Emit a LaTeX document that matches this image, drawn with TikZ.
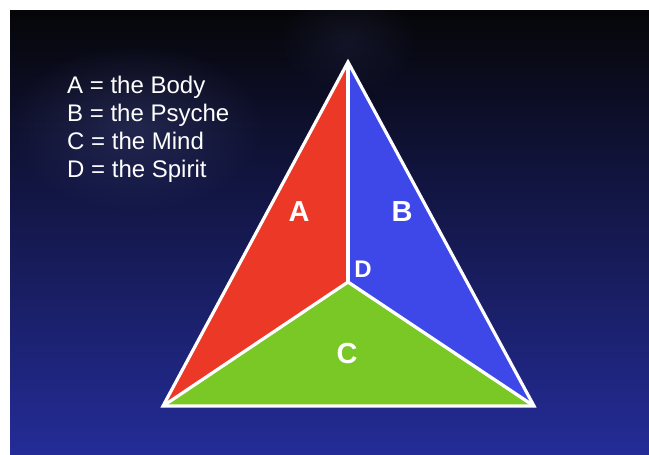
\documentclass[tikz,border=0pt]{standalone}
\usepackage{fontspec}
\setmainfont{Liberation Sans}
\usetikzlibrary{fadings}

\definecolor{faceA}{RGB}{236,56,38}
\definecolor{faceB}{RGB}{62,72,232}
\definecolor{faceC}{RGB}{122,200,38}
\definecolor{bgtop}{RGB}{6,6,8}
\definecolor{bgmid}{RGB}{18,26,92}
\definecolor{bgbot}{RGB}{36,44,152}

\tikzfading[name=softglow, inner color=transparent!0, outer color=transparent!100]

\begin{document}
\begin{tikzpicture}[x=1pt, y=-1pt,
  edge/.style={white, line width=3.2pt, line join=miter},
  face/.style={text=white, inner sep=0pt, font=\bfseries\fontsize{29}{29}\selectfont},
  legend/.style={text=white, inner sep=0pt, anchor=base west, font=\fontsize{24}{28}\selectfont}]

  % Frame and background
  \useasboundingbox (0,0) rectangle (649,455);
  \fill[white] (0,0) rectangle (649,455);
  \shade[top color=bgtop, middle color=bgmid, bottom color=bgbot] (10,10) rectangle (649,455);

  % Soft glow behind the apex and the legend
  \begin{scope}
    \clip (10,10) rectangle (649,455);
    \fill[bgmid!70!gray, opacity=0.25, path fading=softglow] (348,40) ellipse (70 and 55);
    \fill[bgmid!80!white, opacity=0.4, path fading=softglow] (135,128) ellipse (130 and 85);
  \end{scope}

  % Legend
  \node[legend] (legA) at (67,93) {A = the Body};
  \node[legend] (legB) at (67,121) {B = the Psyche};
  \node[legend] (legC) at (67,149) {C = the Mind};
  \node[legend] (legD) at (67,177) {D = the Spirit};

  % Corners of the triangle
  \coordinate (top) at (348,62);
  \coordinate (left) at (163,406);
  \coordinate (right) at (534,406);
  \coordinate (mid) at (348,282);

  % Faces
  \fill[faceA] (top) -- (mid) -- (left) -- cycle;
  \fill[faceB] (top) -- (right) -- (mid) -- cycle;
  \fill[faceC] (left) -- (mid) -- (right) -- cycle;

  % Edges
  \draw[edge] (top) -- (right) -- (left) -- cycle;
  \draw[edge] (top) -- (mid);
  \draw[edge] (left) -- (mid) -- (right);

  % Face labels
  \node[face] (labA) at (299,212) {A};
  \node[face] (labB) at (402,212) {B};
  \node[face] (labC) at (347,354) {C};
  \node[face, font=\bfseries\fontsize{24}{24}\selectfont] (labD) at (363,269) {D};

\end{tikzpicture}
\end{document}
